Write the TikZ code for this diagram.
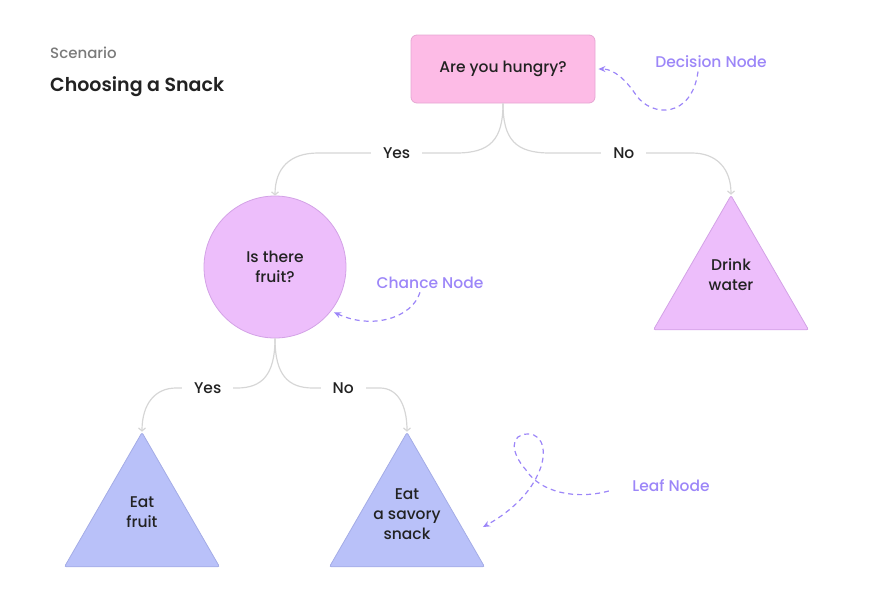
\documentclass[tikz,border=0pt]{standalone}
\usepackage{fontspec}
\setmainfont{Poppins}[UprightFont=* Medium, BoldFont=* SemiBold]
\usetikzlibrary{arrows.meta,shapes.geometric}
\definecolor{decfill}{HTML}{FDBBE6}
\definecolor{decline}{HTML}{E6A6D3}
\definecolor{chfill}{HTML}{EDBEFB}
\definecolor{chline}{HTML}{D3A2E6}
\definecolor{leaffill}{HTML}{B9C1F9}
\definecolor{leafline}{HTML}{A4ACE6}
\definecolor{branchgray}{HTML}{D6D6D6}
\definecolor{notecol}{HTML}{9C86F8}
\definecolor{inkcol}{HTML}{222222}
\definecolor{titlegray}{HTML}{7A7A7A}
\tikzset{
  every node/.style={font=\fontsize{15.5}{20}\selectfont, text=inkcol},
  decisionbox/.style={draw=decline, fill=decfill, rounded corners=6pt,
    minimum width=184pt, minimum height=68pt, line width=0.8pt},
  chancenode/.style={circle, draw=chline, fill=chfill, minimum size=142pt,
    line width=0.8pt, align=center},
  leafnode/.style={regular polygon, regular polygon sides=3, minimum size=179pt,
    rounded corners=2pt, line width=0.8pt, inner sep=0pt},
  leaftext/.style={align=center, yshift=10pt},
  branch/.style={draw=branchgray, line width=1.2pt,
    -{Straight Barb[length=3pt, width=7pt]}},
  branchlbl/.style={fill=white, inner xsep=12pt, inner ysep=2pt},
  notelbl/.style={text=notecol},
  note/.style={draw=notecol, line width=1.2pt, dash pattern=on 5pt off 4pt,
    -{Stealth[length=7pt, width=6pt]}, shorten >=3pt}
}
\begin{document}
\begin{tikzpicture}[x=1pt, y=-1pt]
    \useasboundingbox (0,0) rectangle (886,606);
    % heading
    \node[anchor=west, inner sep=0pt, text=titlegray, font=\fontsize{15}{18}\selectfont] (scenario) at (50,53) {Scenario};
    \node[anchor=west, inner sep=0pt, font=\fontsize{19}{22}\selectfont\bfseries] (title) at (50,87) {Choosing a Snack};
    % tree nodes
    \node[decisionbox] (hungry) at (503,69) {Are you hungry?};
    \node[chancenode] (fruit) at (275,267) {Is there\\fruit?};
    \node[leafnode, draw=chline, fill=chfill, label={[leaftext]center:{Drink\\water}}] (water) at (731,285) {};
    \node[leafnode, draw=leafline, fill=leaffill, label={[leaftext]center:{Eat\\fruit}}] (eatfruit) at (142,522) {};
    \node[leafnode, draw=leafline, fill=leaffill, label={[leaftext, yshift=-2pt]center:{Eat\\a savory\\snack}}] (snack) at (407,522) {};
    % branches
    \draw[branch] (hungry.south) .. controls (503,140) and (490,153) .. (456,153)
        -- node[branchlbl, pos=0.43] {Yes} (318,153) .. controls (290,153) and (275,168) .. (fruit.north);
    \draw[branch] (hungry.south) .. controls (503,140) and (516,153) .. (550,153)
        -- node[branchlbl, pos=0.52] {No} (692,153) .. controls (716,153) and (731,168) .. (water.corner 1);
    \draw[branch] (fruit.south) .. controls (275,375) and (262,388) .. (237,388)
        -- node[branchlbl, pos=0.48] {Yes} (176,388) .. controls (155,388) and (142,404) .. (eatfruit.corner 1);
    \draw[branch] (fruit.south) .. controls (275,375) and (288,388) .. (313,388)
        -- node[branchlbl, pos=0.45] {No} (380,388) .. controls (397,388) and (407,404) .. (snack.corner 1);
    % notes
    \node[notelbl] (declbl) at (711,62) {Decision Node};
    \node[notelbl] (chlbl) at (430,283) {Chance Node};
    \node[notelbl] (leaflbl) at (671,486) {Leaf Node};
    \coordinate (leaftip) at (483,527);
    \draw[note] ([xshift=-13pt]declbl.south) .. controls (692,118) and (652,118) .. (636,95)
        .. controls (626,80) and (614,69) .. (hungry.east);
    \draw[note] ([xshift=-10pt]chlbl.south) .. controls (412,318) and (372,330) .. (fruit.-38);
    \draw[note, shorten >=0pt] ([xshift=-20pt, yshift=-5pt]leaflbl.west) .. controls (575,500) and (540,492) .. (526,470)
        .. controls (510,452) and (510,434) .. (528,434) .. controls (545,434) and (547,456) .. (538,474)
        .. controls (528,497) and (505,515) .. (leaftip);
\end{tikzpicture}
\end{document}
